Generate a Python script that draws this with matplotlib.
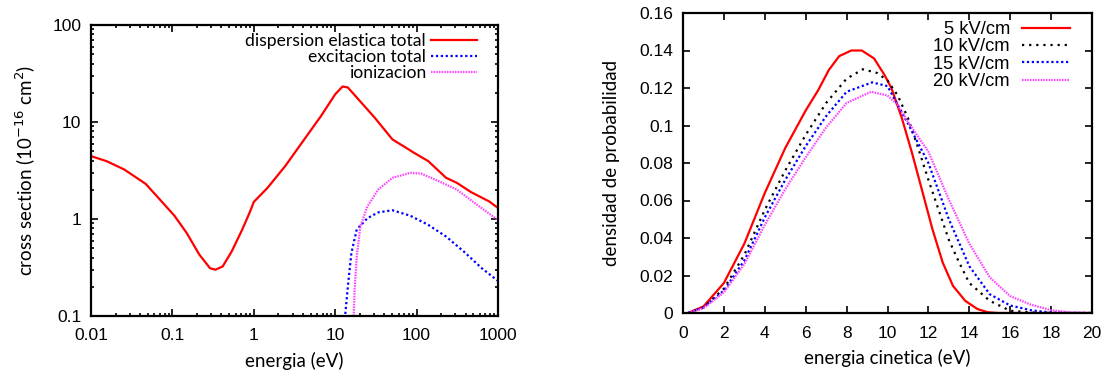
import numpy as np
import matplotlib
matplotlib.use('Agg')
import matplotlib.pyplot as plt
from matplotlib.ticker import FixedLocator, LogLocator, NullFormatter, FixedFormatter, MultipleLocator

# --- datos: secciones eficaces (panel izquierdo) ---
el_x = [0.01, 0.0155, 0.0256, 0.047, 0.0705, 0.106, 0.150, 0.214, 0.290, 0.338, 0.414, 0.533,
        0.72, 0.883, 1.0, 1.47, 2.43, 4.03, 6.68, 10.0, 12.3, 14.3, 18.4, 30.5, 50.6, 68.5,
        92.8, 139, 230, 312, 468, 776, 1000]
el_y = [4.45, 3.95, 3.24, 2.30, 1.58, 1.08, 0.716, 0.43, 0.311, 0.30, 0.324, 0.46,
        0.776, 1.15, 1.50, 2.09, 3.51, 6.36, 11.5, 19.3, 23.2, 22.7, 17.9, 11.1, 6.6, 5.65,
        4.82, 3.95, 2.66, 2.36, 1.89, 1.52, 1.30]

exc_x = [13.3, 14.3, 15.8, 18.4, 24.9, 33.8, 50.6, 83.9, 139, 230, 382, 634, 1000]
exc_y = [0.105, 0.20, 0.445, 0.78, 1.02, 1.17, 1.23, 1.08, 0.87, 0.66, 0.46, 0.31, 0.23]

ion_x = [16.9, 17.3, 18.4, 20.4, 24.9, 33.8, 50.6, 83.9, 114, 188, 312, 518, 859, 1000]
ion_y = [0.1, 0.186, 0.41, 0.84, 1.35, 2.01, 2.66, 2.99, 2.94, 2.45, 2.01, 1.46, 1.07, 0.98]

# --- datos: distribuciones de energia (panel derecho) ---
e5_x = [0.25, 1.0, 2.0, 3.0, 4.0, 5.0, 6.0, 6.62, 7.13, 7.64, 8.23, 8.74, 9.34, 9.85, 10.19,
        10.7, 11.2, 11.7, 12.2, 12.7, 13.2, 13.8, 14.4, 14.9, 15.4, 20.0]
e5_y = [0.0, 0.0035, 0.016, 0.037, 0.064, 0.088, 0.108, 0.119, 0.1296, 0.137, 0.140, 0.140,
        0.1358, 0.127, 0.120, 0.104, 0.0853, 0.065, 0.0446, 0.0269, 0.0145, 0.0065, 0.0021,
        0.0004, 0.0, 0.0]

e10_x = [0.25, 1.0, 2.0, 3.0, 4.0, 5.0, 6.0, 7.0, 8.0, 8.8, 9.5, 10.0, 10.5, 11.0, 11.5, 12.0,
         12.5, 13.0, 13.5, 14.0, 15.0, 16.0, 17.0, 18.0, 20.0]
e10_y = [0.0, 0.003, 0.013, 0.031, 0.055, 0.076, 0.095, 0.112, 0.125, 0.130, 0.128, 0.124,
         0.116, 0.104, 0.088, 0.071, 0.055, 0.039, 0.027, 0.016, 0.0065, 0.0012, 0.0003, 0.0, 0.0]

e15_x = [0.25, 1.0, 2.0, 3.0, 4.0, 5.0, 6.0, 7.0, 8.0, 9.25, 10.0, 11.0, 12.0, 13.0, 14.0,
         15.0, 16.0, 17.0, 18.0, 20.0]
e15_y = [0.0, 0.003, 0.012, 0.028, 0.051, 0.071, 0.089, 0.105, 0.118, 0.123, 0.121, 0.101,
         0.080, 0.050, 0.025, 0.010, 0.004, 0.0015, 0.0002, 0.0]

e20_x = [0.25, 1.0, 2.0, 3.0, 4.0, 5.0, 6.0, 7.0, 8.0, 9.2, 10.0, 10.5, 11.0, 12.0, 13.0,
         14.0, 15.0, 16.0, 17.0, 18.0, 19.0, 20.0]
e20_y = [0.0, 0.0025, 0.011, 0.026, 0.047, 0.066, 0.083, 0.099, 0.112, 0.118, 0.116, 0.111,
         0.102, 0.086, 0.0605, 0.037, 0.019, 0.009, 0.0045, 0.0015, 0.0003, 0.0]

plt.rcParams['font.family'] = ['Liberation Sans', 'DejaVu Sans']
lab_font = 'Lato'

fig = plt.figure(figsize=(11.1, 3.7), dpi=100)
ax1 = fig.add_axes([91/1110, 54/370, 407/1110, 291/370])
ax2 = fig.add_axes([683/1110, 57/370, 409/1110, 300/370])

# panel izquierdo
ax1.plot(el_x, el_y, color='#ff0000', lw=1.6, label='dispersion elastica total')
ax1.plot(exc_x, exc_y, color='#0000ff', lw=1.6, ls=(0, (1, 1.2)), label='excitacion total')
ax1.plot(ion_x, ion_y, color='#ff44ff', lw=1.6, ls=(0, (0.7, 0.5)), label='ionizacion')
ax1.set_xscale('log')
ax1.set_yscale('log')
ax1.set_xlim(0.01, 1000)
ax1.set_ylim(0.1, 100)
xt = [0.01, 0.1, 1, 10, 100, 1000]
yt = [0.1, 1, 10, 100]
ax1.xaxis.set_major_locator(FixedLocator(xt))
ax1.xaxis.set_major_formatter(FixedFormatter(['0.01', '0.1', '1', '10', '100', '1000']))
ax1.yaxis.set_major_locator(FixedLocator(yt))
ax1.yaxis.set_major_formatter(FixedFormatter(['0.1', '1', '10', '100']))
for a in (ax1.xaxis, ax1.yaxis):
    a.set_minor_locator(LogLocator(base=10, subs=np.arange(2, 10)))
    a.set_minor_formatter(NullFormatter())
ax1.set_xlabel('energia (eV)', family=lab_font, fontsize=13.5, labelpad=6)
ax1.set_ylabel('cross section (10$^{-16}$ cm$^2$)', family=lab_font, fontsize=13.5, labelpad=10)
ax1.legend(loc='upper right', bbox_to_anchor=(0.965, 0.997), frameon=False, markerfirst=False,
           handlelength=2.6, handletextpad=0.3, labelspacing=0.0,
           borderaxespad=0.0, prop={'family': lab_font, 'size': 12.6})

# panel derecho
ax2.plot(e5_x, e5_y, color='#ff0000', lw=1.6, label='5 kV/cm')
ax2.plot(e10_x, e10_y, color='black', lw=1.6, ls=(0, (1, 2.2)), label='10 kV/cm')
ax2.plot(e15_x, e15_y, color='#0000ff', lw=1.6, ls=(0, (1, 1.2)), label='15 kV/cm')
ax2.plot(e20_x, e20_y, color='#ff44ff', lw=1.6, ls=(0, (0.7, 0.5)), label='20 kV/cm')
ax2.set_xlim(0, 20)
ax2.set_ylim(0, 0.16)
ax2.xaxis.set_major_locator(MultipleLocator(2))
ax2.yaxis.set_major_locator(MultipleLocator(0.02))
ax2.yaxis.set_major_formatter(plt.FuncFormatter(lambda v, p: '%g' % round(v, 2)))
ax2.set_xlabel('energia cinetica (eV)', family=lab_font, fontsize=13.5, labelpad=6)
ax2.set_ylabel('densidad de probabilidad', family=lab_font, fontsize=13.5, labelpad=14)
ax2.legend(loc='upper right', bbox_to_anchor=(0.963, 0.998), frameon=False, markerfirst=False,
           handlelength=2.6, handletextpad=0.65, labelspacing=0.02,
           borderaxespad=0.0, prop={'size': 13.2})

for ax in (ax1, ax2):
    for s in ax.spines.values():
        s.set_linewidth(1.6)
    ax.tick_params(which='both', direction='in', top=True, right=True, labelsize=12.5, width=1.2)
    ax.tick_params(which='major', length=5, pad=7)
    ax.tick_params(which='minor', length=2.5)
    ax.tick_params(axis='x', which='major', pad=9)

fig.savefig('out.png', dpi=100)
